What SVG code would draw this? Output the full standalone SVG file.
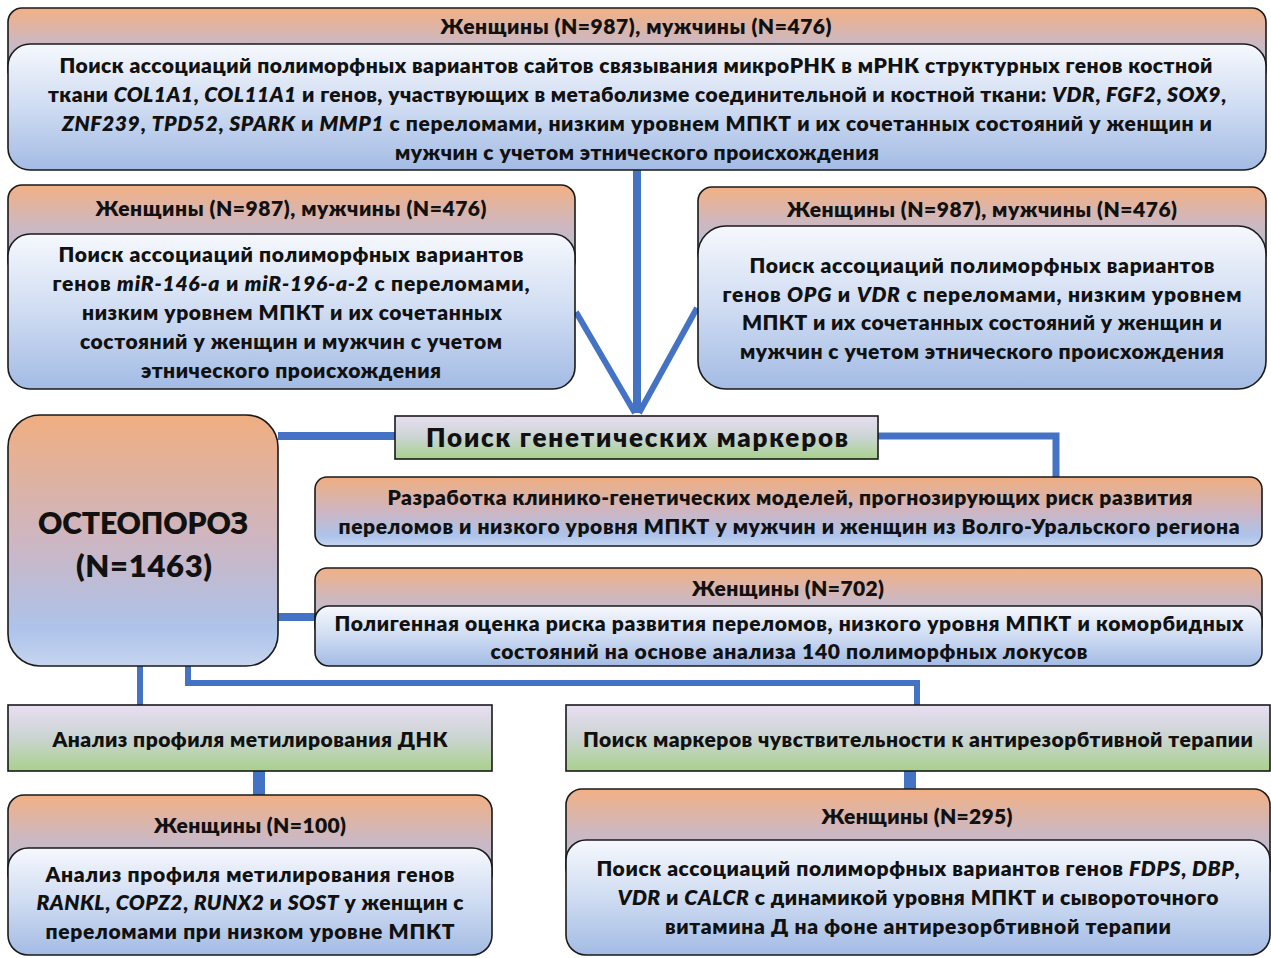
<svg xmlns="http://www.w3.org/2000/svg" width="1271" height="958" viewBox="0 0 1271 958">
<defs>
<linearGradient id="hdr" x1="0" y1="0" x2="0" y2="1"><stop offset="0" stop-color="#F2B084"/><stop offset="0.45" stop-color="#CDB8C0"/><stop offset="1" stop-color="#A8BFE7"/></linearGradient>
<linearGradient id="inner" x1="0" y1="0" x2="0" y2="1"><stop offset="0" stop-color="#F6F8FD"/><stop offset="0.5" stop-color="#CFDCF2"/><stop offset="1" stop-color="#A3BBE4"/></linearGradient>
<linearGradient id="ob" x1="0" y1="0" x2="0" y2="1"><stop offset="0" stop-color="#F0AE80"/><stop offset="0.5" stop-color="#CDB6C2"/><stop offset="0.85" stop-color="#ADC3EA"/><stop offset="1" stop-color="#C6D5F0"/></linearGradient>
<linearGradient id="lg" x1="0" y1="0" x2="0" y2="1"><stop offset="0" stop-color="#E8DEF2"/><stop offset="0.5" stop-color="#CBD4D2"/><stop offset="1" stop-color="#A8D18C"/></linearGradient>
</defs>
<style>
.b{stroke:#1a1a1a;stroke-width:1.6}
.t{font-family:Lato,"Liberation Sans",sans-serif;font-weight:800;font-size:21px;fill:#111;text-anchor:middle}
.i{font-style:italic}
.c{stroke:#4472C4;fill:none}
</style>
<rect width="1271" height="958" fill="#fff"/>
<g id="connectors">
<line class="c" x1="637" y1="170" x2="637" y2="413" stroke-width="8"/>
<line class="c" x1="576" y1="312" x2="635" y2="413" stroke-width="6"/>
<line class="c" x1="697" y1="308" x2="639" y2="413" stroke-width="6"/>
<line class="c" x1="278" y1="436" x2="395" y2="436" stroke-width="8"/>
<polyline class="c" points="878,436 1056,436 1056,477" stroke-width="7"/>
<line class="c" x1="278" y1="617" x2="315" y2="617" stroke-width="8"/>
<line class="c" x1="140" y1="665" x2="140" y2="705" stroke-width="6"/>
<polyline class="c" points="188,665 188,683 917,683 917,705" stroke-width="6"/>
<line class="c" x1="259" y1="771" x2="259" y2="795" stroke-width="12"/>
<line class="c" x1="910" y1="771" x2="910" y2="789" stroke-width="12"/>
</g>
<g id="top">
<rect class="b" x="8" y="8" width="1258" height="76" rx="14" fill="url(#hdr)"/>
<rect class="b" x="8" y="44" width="1258" height="126" rx="22" fill="url(#inner)"/>
<text class="t" x="636" y="34" textLength="391">Женщины (N=987), мужчины (N=476)</text>
<text class="t" x="636" y="73" textLength="1153">Поиск ассоциаций полиморфных вариантов сайтов связывания микроРНК в мРНК структурных генов костной</text>
<text class="t" x="637" y="102" textLength="1178">ткани <tspan class="i">COL1A1</tspan>, <tspan class="i">COL11A1</tspan> и генов, участвующих в метаболизме соединительной и костной ткани: <tspan class="i">VDR</tspan>, <tspan class="i">FGF2</tspan>, <tspan class="i">SOX9</tspan>,</text>
<text class="t" x="637" y="131" textLength="1150"><tspan class="i">ZNF239</tspan>, <tspan class="i">TPD52</tspan>, <tspan class="i">SPARK</tspan> и <tspan class="i">MMP1</tspan> с переломами, низким уровнем МПКТ и их сочетанных состояний у женщин и</text>
<text class="t" x="637" y="160" textLength="484">мужчин с учетом этнического происхождения</text>
</g>
<g id="left-mid">
<rect class="b" x="8" y="185" width="567" height="90" rx="14" fill="url(#hdr)"/>
<rect class="b" x="8" y="234" width="567" height="155" rx="22" fill="url(#inner)"/>
<text class="t" x="291" y="216" textLength="391">Женщины (N=987), мужчины (N=476)</text>
<text class="t" x="291" y="262" textLength="465">Поиск ассоциаций полиморфных вариантов</text>
<text class="t" x="291" y="291" textLength="477">генов <tspan class="i">miR-146-a</tspan> и <tspan class="i">miR-196-a-2</tspan> с переломами,</text>
<text class="t" x="292" y="320" textLength="420">низким уровнем МПКТ и их сочетанных</text>
<text class="t" x="291" y="349" textLength="422">состояний у женщин и мужчин с учетом</text>
<text class="t" x="291" y="378" textLength="300">этнического происхождения</text>
</g>
<g id="right-mid">
<rect class="b" x="698" y="187" width="568" height="80" rx="14" fill="url(#hdr)"/>
<rect class="b" x="698" y="226" width="568" height="163" rx="28" fill="url(#inner)"/>
<text class="t" x="982" y="217" textLength="390">Женщины (N=987), мужчины (N=476)</text>
<text class="t" x="982" y="273" textLength="465">Поиск ассоциаций полиморфных вариантов</text>
<text class="t" x="982" y="302" textLength="519">генов <tspan class="i">OPG</tspan> и <tspan class="i">VDR</tspan> с переломами, низким уровнем</text>
<text class="t" x="982" y="330" textLength="480">МПКТ и их сочетанных состояний у женщин и</text>
<text class="t" x="982" y="359" textLength="484">мужчин с учетом этнического происхождения</text>
</g>
<g id="osteo">
<rect class="b" x="8" y="415" width="270" height="251" rx="32" fill="url(#ob)"/>
<text class="t" x="143" y="534" style="font-size:30px" textLength="210">ОСТЕОПОРОЗ</text>
<text class="t" x="144" y="577" style="font-size:31px" textLength="136">(N=1463)</text>
</g>
<g id="search">
<rect class="b" x="395" y="416" width="483" height="43" fill="url(#lg)"/>
<text class="t" x="637" y="447" style="font-size:26px" textLength="422">Поиск генетических маркеров</text>
</g>
<g id="models">
<rect class="b" x="315" y="477" width="947" height="69" rx="12" fill="url(#ob)"/>
<text class="t" x="790" y="505" textLength="805">Разработка клинико-генетических моделей, прогнозирующих риск развития</text>
<text class="t" x="789" y="534" textLength="901">переломов и низкого уровня МПКТ у мужчин и женщин из Волго-Уральского региона</text>
</g>
<g id="poly">
<rect class="b" x="315" y="568" width="947" height="70" rx="12" fill="url(#hdr)"/>
<rect class="b" x="315" y="606" width="947" height="60" rx="14" fill="url(#inner)"/>
<text class="t" x="788" y="596" textLength="192">Женщины (N=702)</text>
<text class="t" x="789" y="631" textLength="909">Полигенная оценка риска развития переломов, низкого уровня МПКТ и коморбидных</text>
<text class="t" x="789" y="659" textLength="597">состояний на основе анализа 140 полиморфных локусов</text>
</g>
<g id="methyl">
<rect class="b" x="8" y="705" width="484" height="66" fill="url(#lg)"/>
<text class="t" x="250" y="747" textLength="395">Анализ профиля метилирования ДНК</text>
</g>
<g id="antires">
<rect class="b" x="566" y="705" width="704" height="66" fill="url(#lg)"/>
<text class="t" x="918" y="747" textLength="670">Поиск маркеров чувствительности к антирезорбтивной терапии</text>
</g>
<g id="w100">
<rect class="b" x="8" y="795" width="484" height="95" rx="16" fill="url(#hdr)"/>
<rect class="b" x="8" y="848" width="484" height="107" rx="20" fill="url(#inner)"/>
<text class="t" x="250" y="833" textLength="192">Женщины (N=100)</text>
<text class="t" x="250" y="882" textLength="409">Анализ профиля метилирования генов</text>
<text class="t" x="250" y="910" textLength="427"><tspan class="i">RANKL</tspan>, <tspan class="i">COPZ2</tspan>, <tspan class="i">RUNX2</tspan> и <tspan class="i">SOST</tspan> у женщин с</text>
<text class="t" x="250" y="939" textLength="409">переломами при низком уровне МПКТ</text>
</g>
<g id="w295">
<rect class="b" x="566" y="789" width="704" height="95" rx="16" fill="url(#hdr)"/>
<rect class="b" x="566" y="840" width="704" height="115" rx="20" fill="url(#inner)"/>
<text class="t" x="917" y="824" textLength="191">Женщины (N=295)</text>
<text class="t" x="918" y="876" textLength="643">Поиск ассоциаций полиморфных вариантов генов <tspan class="i">FDPS</tspan>, <tspan class="i">DBP</tspan>,</text>
<text class="t" x="918" y="905" textLength="601"><tspan class="i">VDR</tspan> и <tspan class="i">CALCR</tspan> с динамикой уровня МПКТ и сывороточного</text>
<text class="t" x="918" y="934" textLength="506">витамина Д на фоне антирезорбтивной терапии</text>
</g>
</svg>
